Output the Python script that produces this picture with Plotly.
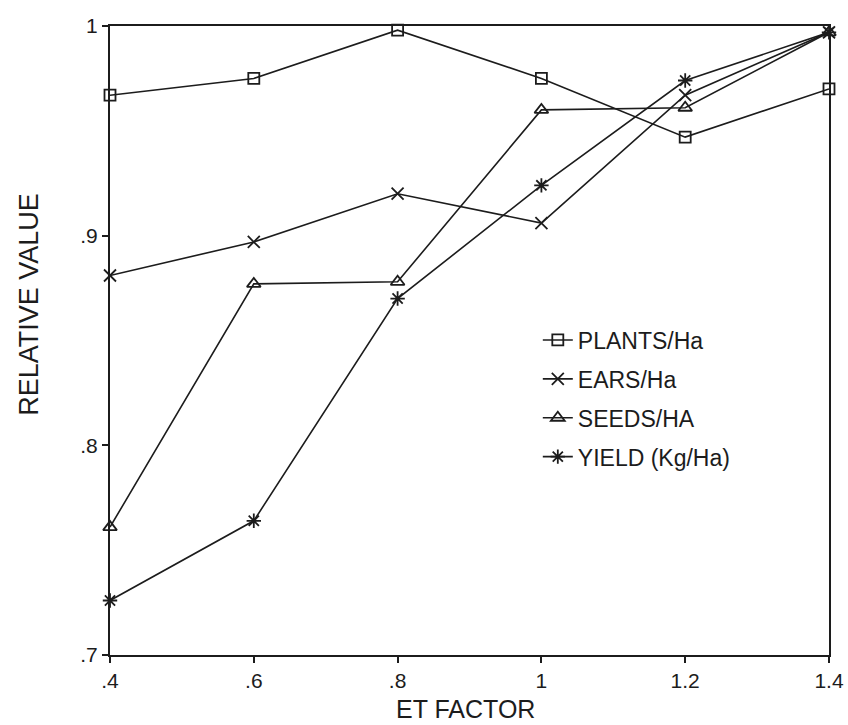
import plotly.graph_objects as go

et_factor = [0.4, 0.6, 0.8, 1.0, 1.2, 1.4]
plants_ha = [0.967, 0.975, 0.998, 0.975, 0.947, 0.970]
ears_ha = [0.881, 0.897, 0.920, 0.906, 0.967, 0.997]
seeds_ha = [0.761, 0.877, 0.878, 0.960, 0.961, 0.997]
yield_kg_ha = [0.726, 0.764, 0.870, 0.924, 0.974, 0.997]

x_ticks = [0.4, 0.6, 0.8, 1.0, 1.2, 1.4]
x_tick_text = [".4", ".6", ".8", "1", "1.2", "1.4"]
y_ticks = [0.7, 0.8, 0.9, 1.0]
y_tick_text = [".7", ".8", ".9", "1"]

ink = "#1c1c1c"
series = [
    ("PLANTS/Ha", plants_ha, "square-open", 11),
    ("EARS/Ha", ears_ha, "x-thin-open", 12),
    ("SEEDS/HA", seeds_ha, "triangle-up-open", 12),
    ("YIELD (Kg/Ha)", yield_kg_ha, "asterisk-open", 12),
]

fig = go.Figure()
for i, (name, vals, sym, size) in enumerate(series):
    fig.add_trace(go.Scatter(
        x=et_factor, y=vals, name=name, mode="lines+markers",
        legendgroup=f"g{i}",
        line=dict(color=ink, width=1.6),
        marker=dict(symbol=sym, size=size, color=ink,
                    line=dict(color=ink, width=1.8)),
        cliponaxis=False,
    ))

font_family = "Liberation Sans, Arial, sans-serif"
axis_common = dict(
    showgrid=False, zeroline=False,
    showline=True, linecolor=ink, linewidth=2, mirror=True,
    ticks="outside", ticklen=6, tickwidth=2, tickcolor=ink,
    tickfont=dict(size=21), automargin=False,
)

fig.update_layout(
    width=848, height=725,
    margin=dict(l=110, r=19, t=26, b=70),
    paper_bgcolor="white", plot_bgcolor="white",
    font=dict(family=font_family, color=ink),
    showlegend=True,
    legend=dict(
        x=0.595, y=0.535, xanchor="left", yanchor="top",
        bgcolor="rgba(0,0,0,0)", font=dict(size=23, color=ink),
        itemwidth=30, tracegroupgap=6,
    ),
    xaxis=dict(range=[0.4, 1.4], tickvals=x_ticks, ticktext=x_tick_text,
               **axis_common),
    yaxis=dict(range=[0.7, 1.0], tickvals=y_ticks, ticktext=y_tick_text,
               **axis_common),
    annotations=[
        dict(text="ET FACTOR", xref="paper", yref="paper",
             x=0.495, y=-0.086, xanchor="center", yanchor="middle",
             showarrow=False, font=dict(size=25, color=ink)),
        dict(text="RELATIVE VALUE", xref="paper", yref="paper",
             x=-0.113, y=0.558, xanchor="center", yanchor="middle",
             textangle=-90, showarrow=False, font=dict(size=27, color=ink)),
    ],
)

fig.write_html("out.html")
